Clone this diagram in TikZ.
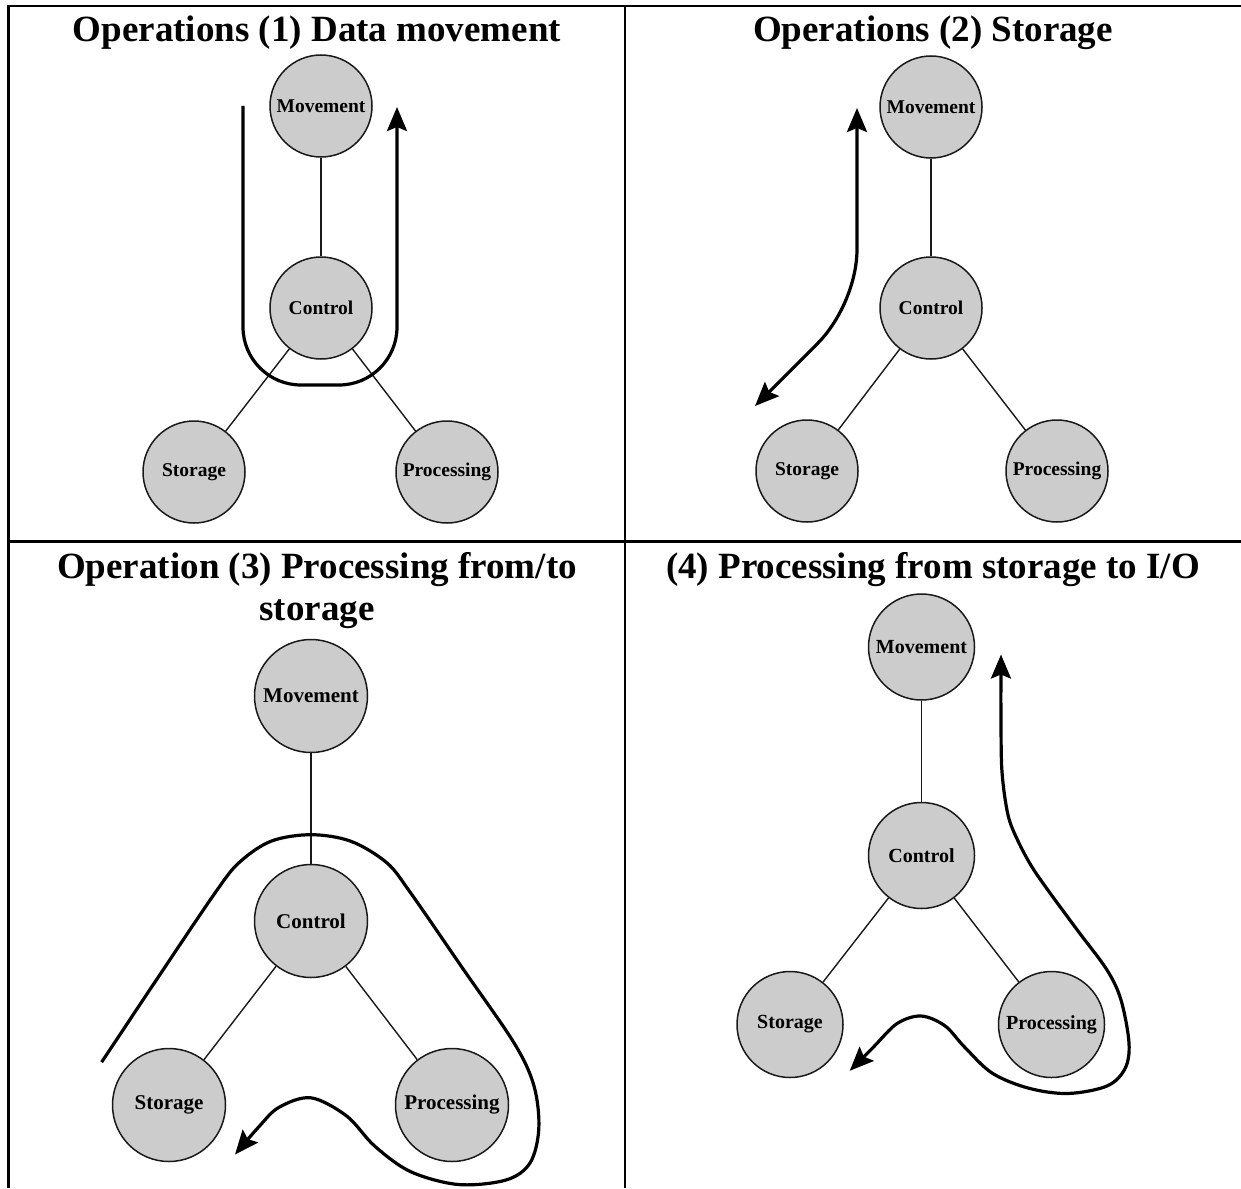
\documentclass[tikz,border=0pt]{standalone}
\usepackage{fontspec}
\setmainfont{Liberation Serif}
\usetikzlibrary{arrows.meta}
\definecolor{circfill}{RGB}{204,204,204}
\definecolor{inkline}{RGB}{25,25,25}
\begin{document}
\begin{tikzpicture}[x=1pt,y=-1pt,
  >={Stealth[length=24pt,width=20pt,inset=4pt]},
  unit/.style={circle, draw=inkline, line width=1.5pt, fill=circfill, inner sep=0pt},
  uA/.style={unit, minimum size=102pt, font=\bfseries\fontsize{19.5}{19.5}\selectfont},
  uC/.style={unit, minimum size=113pt, font=\bfseries\fontsize{21}{21}\selectfont},
  uD/.style={unit, minimum size=106pt, font=\bfseries\fontsize{20}{20}\selectfont},
  link/.style={draw=inkline, line width=1.4pt},
  flow/.style={draw=black, line width=3.2pt},
  border/.style={draw=black, line width=2.2pt, line join=miter},
  title/.style={anchor=base, inner sep=0pt, font=\bfseries\fontsize{37}{41}\selectfont}
]
\useasboundingbox (0,0) rectangle (1241,1188);

% table lines
\draw[border] (8.5,1188) -- (8.5,5.7) -- (1241,5.7);
\draw[border] (625,5.7) -- (625,1188);
\draw[border] (8.5,541.5) -- (1241,541.5);

% ---------- panel 1 ----------
\node[title] (t1) at (317,41.5) {Operations (1) Data movement};
\node[uA] (mov1) at (321,106) {Movement};
\node[uA] (ctl1) at (321,308) {Control};
\node[uA] (sto1) at (194,472) {Storage};
\node[uA] (pro1) at (447,472) {Processing};
\draw[link] (mov1) -- (ctl1);
\draw[link] (ctl1) -- (sto1);
\draw[link] (ctl1) -- (pro1);
\coordinate (f1s) at (243,106);
\coordinate (f1e) at (397,107);
\draw[flow,->,rounded corners=58pt] (f1s) -- (243,385) -- (397,385) -- (f1e);

% ---------- panel 2 ----------
\node[title] (t2) at (933,41.5) {Operations (2) Storage};
\node[uA] (mov2) at (931,107) {Movement};
\node[uA] (ctl2) at (931,308) {Control};
\node[uA] (sto2) at (807,471) {Storage};
\node[uA] (pro2) at (1057,471) {Processing};
\draw[link] (mov2) -- (ctl2);
\draw[link] (ctl2) -- (sto2);
\draw[link] (ctl2) -- (pro2);
\coordinate (f2s) at (857,108);
\coordinate (f2e) at (755,406);
\draw[flow,<->] (f2s) -- (857,249) .. controls (857,285) and (838,323) .. (818,343) -- (f2e);

% ---------- panel 3 ----------
\node[title] (t3a) at (317,578.5) {Operation (3) Processing from/to};
\node[title] (t3b) at (317,620) {storage};
\node[uC] (mov3) at (311,696) {Movement};
\node[uC] (ctl3) at (311,921) {Control};
\node[uC] (sto3) at (169,1105) {Storage};
\node[uC] (pro3) at (452,1105) {Processing};
\draw[link] (mov3) -- (ctl3);
\draw[link] (ctl3) -- (sto3);
\draw[link] (ctl3) -- (pro3);
\coordinate (f3s) at (101.6,1062.2);
\coordinate (f3e) at (235,1154.5);
\draw[flow,->] plot[smooth,tension=0.55] coordinates {
  (f3s) (158.2,977.2) (215.2,892.7) (239.1,862.6) (271,841.2) (310.9,834.7)
  (350.7,841.2) (386.6,862.6) (410.5,892.7) (462.3,967.8) (514.1,1043)
  (534,1086) (538.8,1128.7) (530,1163) (506,1180) (458.3,1184.5)
  (410.5,1171.6) (374.6,1146) (346.7,1116) (310.9,1097.8) (279,1107.3)
  (259,1126.6) (f3e)};

% ---------- panel 4 ----------
\node[title] (t4) at (933,578.5) {(4) Processing from storage to I/O};
\node[uD] (mov4) at (921.5,647) {Movement};
\node[uD] (ctl4) at (921.5,855.5) {Control};
\node[uD] (sto4) at (790,1024.5) {Storage};
\node[uD] (pro4) at (1051.5,1024.5) {Processing};
\draw[link] (mov4) -- (ctl4);
\draw[link] (ctl4) -- (sto4);
\draw[link] (ctl4) -- (pro4);
\coordinate (f4s) at (1001,654.5);
\coordinate (f4e) at (849.7,1070.8);
\draw[flow,<->] plot[smooth,tension=0.55] coordinates {
  (f4s) (1001,720) (1002,772) (1008,815) (1018,841) (1032,867) (1050,893)
  (1078,931) (1107,970) (1121,1000) (1129,1043) (1125,1068.6) (1107,1086)
  (1067.5,1093.5) (1028,1088) (992,1073) (964.5,1047) (944.8,1025.7)
  (921,1016) (897,1023.6) (873.5,1047) (f4e)};
\end{tikzpicture}
\end{document}
